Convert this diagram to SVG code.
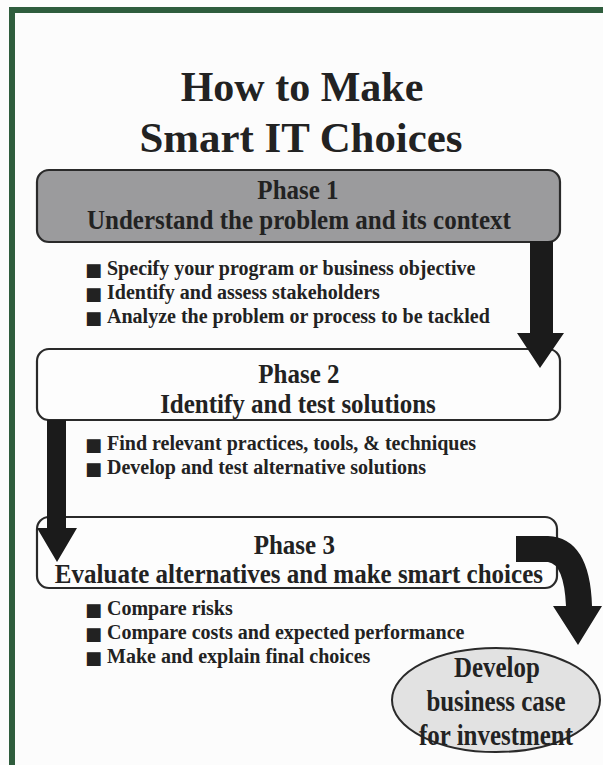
<svg xmlns="http://www.w3.org/2000/svg" width="603" height="765" viewBox="0 0 603 765">
<style>
  .frame { fill: #2f5d3d; }
  .box { stroke: #2a2a2a; stroke-width: 2.2; }
  .t { font-family: "Liberation Serif", "Times New Roman", serif; font-weight: bold; fill: #222; }
  .title { font-size: 42px; text-anchor: middle; }
  .head { font-size: 27px; text-anchor: middle; }
  .bul { font-size: 22px; }
  .sq { font-family: "DejaVu Sans", sans-serif; font-size: 18px; fill: #222; }
  .ell { font-size: 29px; text-anchor: middle; }
  .arrow { fill: #1b1b1b; }
</style>
<rect x="0" y="0" width="603" height="765" fill="#fcfcfc"/>
<rect class="frame" x="9" y="7" width="594" height="6"/>
<rect class="frame" x="9" y="7" width="6" height="758"/>

<g id="title">
  <text class="t title" x="302" y="101">How to Make</text>
  <text class="t title" x="301" y="152" textLength="323" lengthAdjust="spacingAndGlyphs">Smart IT Choices</text>
</g>

<g id="phase1">
  <rect class="box" x="37" y="170" width="523" height="72" rx="12" fill="#9b9b9d"/>
  <g transform="translate(298,0) scale(0.926,1) translate(-298,0)">
    <text class="t head" x="298" y="199">Phase 1</text>
    <text class="t head" x="299" y="229">Understand the problem and its context</text>
  </g>
  <text class="sq" x="85" y="276">■</text>
  <text class="sq" x="85" y="300">■</text>
  <text class="sq" x="85" y="324">■</text>
  <g transform="translate(107,0) scale(0.91,1) translate(-107,0)">
    <text class="t bul" x="107" y="275">Specify your program or business objective</text>
    <text class="t bul" x="107" y="299">Identify and assess stakeholders</text>
    <text class="t bul" x="107" y="323">Analyze the problem or process to be tackled</text>
  </g>
</g>

<g id="phase2">
  <rect class="box" x="37" y="349" width="523" height="71" rx="12" fill="#fdfdfd"/>
  <g transform="translate(298,0) scale(0.926,1) translate(-298,0)">
    <text class="t head" x="299" y="383">Phase 2</text>
    <text class="t head" x="298" y="413">Identify and test solutions</text>
  </g>
  <text class="sq" x="85" y="451">■</text>
  <text class="sq" x="85" y="475">■</text>
  <g transform="translate(107,0) scale(0.91,1) translate(-107,0)">
    <text class="t bul" x="107" y="450">Find relevant practices, tools, &amp; techniques</text>
    <text class="t bul" x="107" y="474">Develop and test alternative solutions</text>
  </g>
</g>

<g id="phase3">
  <rect class="box" x="37" y="517" width="520" height="71" rx="12" fill="#fdfdfd"/>
  <g transform="translate(298,0) scale(0.926,1) translate(-298,0)">
    <text class="t head" x="294" y="554">Phase 3</text>
    <text class="t head" x="299" y="583">Evaluate alternatives and make smart choices</text>
  </g>
  <text class="sq" x="85" y="616">■</text>
  <text class="sq" x="85" y="640">■</text>
  <text class="sq" x="85" y="664">■</text>
  <g transform="translate(107,0) scale(0.91,1) translate(-107,0)">
    <text class="t bul" x="107" y="615">Compare risks</text>
    <text class="t bul" x="107" y="639">Compare costs and expected performance</text>
    <text class="t bul" x="107" y="663">Make and explain final choices</text>
  </g>
</g>

<g id="business-case">
  <ellipse cx="496" cy="700" rx="104" ry="52" fill="#e2e2e2" stroke="#2a2a2a" stroke-width="2"/>
  <g transform="translate(496,0) scale(0.86,1) translate(-496,0)">
    <text class="t ell" x="497" y="677">Develop</text>
    <text class="t ell" x="496" y="711">business case</text>
    <text class="t ell" x="496" y="745">for investment</text>
  </g>
</g>

<g id="connectors">
  <path class="arrow" d="M530,241 L553,241 L553,333 L564,333 L540,368 L517,333 L530,333 Z"/>
  <path class="arrow" d="M47,420 L66,420 L66,528 L77,528 L57,562 L37,528 L47,528 Z"/>
  <path class="arrow" d="M516,536 L548,536 Q590,538 592,606 L602,606 L578,645 L553,606 L566,606 Q564,564 548,562 L516,562 Z"/>
</g>
</svg>
